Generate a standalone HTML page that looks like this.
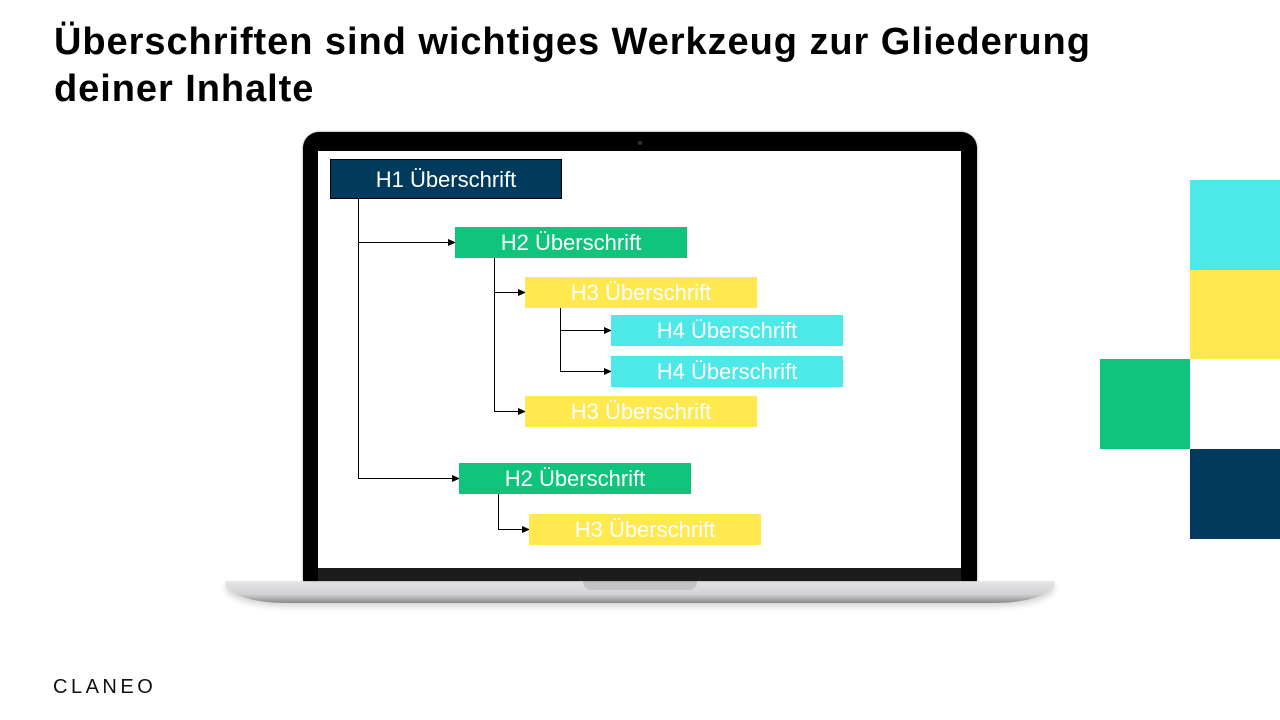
<!DOCTYPE html>
<html><head><meta charset="utf-8"><style>
body{margin:0;width:1280px;height:720px;background:#fff;position:relative;overflow:hidden;font-family:"Liberation Sans",sans-serif}
.a{position:absolute}
h1{position:absolute;left:54px;top:19px;margin:0;font-size:38px;line-height:47px;font-weight:bold;color:#000;letter-spacing:0.95px}
.b{position:absolute;width:232px;color:#fff;font-size:22px;text-align:center;box-sizing:border-box}
</style></head><body>
<h1>Überschriften sind wichtiges Werkzeug zur Gliederung<br>deiner Inhalte</h1>
<div class="a" style="left:225px;top:581px;width:830px;height:22px;background:linear-gradient(#e6e6e8,#d2d2d4 60%,#8a8a8c);border-radius:2px 2px 60px 60px/2px 2px 20px 20px;box-shadow:0 4px 6px rgba(0,0,0,0.15)"></div>
<div class="a" style="left:583px;top:581px;width:114px;height:9px;background:#c4c4c6;border-radius:0 0 8px 8px"></div>
<div class="a" style="left:303px;top:132px;width:674px;height:449px;background:#000;border-radius:16px 16px 0 0;box-shadow:0 0 2px #888"></div>
<div class="a" style="left:318px;top:568px;width:643px;height:13px;background:#1c1c1c"></div>
<div class="a" style="left:318px;top:151px;width:643px;height:417px;background:#fff"></div>
<div class="a" style="left:638px;top:141px;width:4px;height:4px;background:#333;border-radius:50%"></div>
<svg class="a" style="left:0;top:0" width="1280" height="720">
<defs><marker id="m" markerWidth="8" markerHeight="8" refX="7" refY="4" orient="auto" markerUnits="userSpaceOnUse"><path d="M0,0.5L8,4L0,7.5z" fill="#000"/></marker></defs>
<g stroke="#000" stroke-width="1" fill="none">
<path d="M358.5,199V478"/><path d="M358,242.5H455" marker-end="url(#m)"/><path d="M358,478.5H459" marker-end="url(#m)"/>
<path d="M494.5,257V411"/><path d="M494,292.5H525" marker-end="url(#m)"/><path d="M494,411.5H525" marker-end="url(#m)"/>
<path d="M560.5,307V371"/><path d="M560,330.5H611" marker-end="url(#m)"/><path d="M560,371.5H611" marker-end="url(#m)"/>
<path d="M498.5,493V529"/><path d="M498,529.5H529" marker-end="url(#m)"/>
</g></svg>
<div class="b" style="left:330px;top:159px;height:40px;line-height:40px;background:#003a5d;border:1px solid #000">H1 Überschrift</div>
<div class="b" style="left:455px;top:227px;height:31px;line-height:31px;background:#10c47c">H2 Überschrift</div>
<div class="b" style="left:525px;top:277px;height:31px;line-height:31px;background:#ffe94f">H3 Überschrift</div>
<div class="b" style="left:611px;top:315px;height:31px;line-height:31px;background:#4de8e8">H4 Überschrift</div>
<div class="b" style="left:611px;top:356px;height:31px;line-height:31px;background:#4de8e8">H4 Überschrift</div>
<div class="b" style="left:525px;top:396px;height:31px;line-height:31px;background:#ffe94f">H3 Überschrift</div>
<div class="b" style="left:459px;top:463px;height:31px;line-height:31px;background:#10c47c">H2 Überschrift</div>
<div class="b" style="left:529px;top:514px;height:31px;line-height:31px;background:#ffe94f">H3 Überschrift</div>
<div class="a" style="left:1190px;top:180px;width:90px;height:90px;background:#4de8e8"></div>
<div class="a" style="left:1190px;top:270px;width:90px;height:89px;background:#ffe94f"></div>
<div class="a" style="left:1100px;top:359px;width:90px;height:90px;background:#10c47c"></div>
<div class="a" style="left:1190px;top:449px;width:90px;height:90px;background:#003a5d"></div>
<div class="a" style="left:53px;top:676px;font-size:20px;letter-spacing:3.5px;color:#111">CLANEO</div>
</body></html>
